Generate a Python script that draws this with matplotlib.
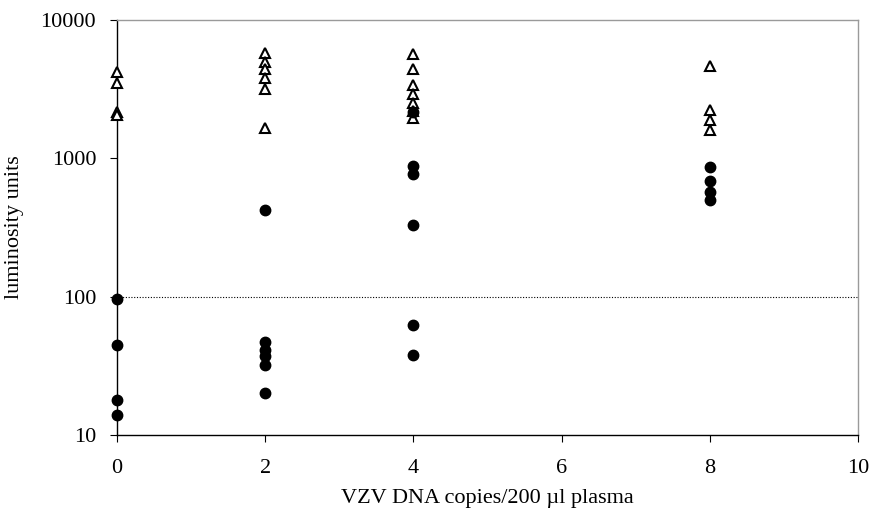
# Luminosity units vs. VZV DNA copies (log scale scatter)

import matplotlib
matplotlib.use("Agg")
import matplotlib.pyplot as plt

# open triangles
tri_x = [0, 0, 0, 0,
         2, 2, 2, 2, 2, 2,
         4, 4, 4, 4, 4, 4, 4,
         8, 8, 8, 8]
tri_y = [4200, 3500, 2150, 2050,
         5800, 5000, 4400, 3800, 3150, 1650,
         5700, 4400, 3400, 2900, 2500, 2200, 1950,
         4650, 2250, 1900, 1600]

# filled circles
dot_x = [0, 0, 0, 0,
         2, 2, 2, 2, 2, 2,
         4, 4, 4, 4, 4, 4,
         8, 8, 8, 8]
dot_y = [97, 45, 18, 14,
         420, 47, 41, 37, 32, 20,
         2150, 880, 775, 330, 62, 38,
         860, 690, 570, 497]

cutoff = 100
x_ticks = [0, 2, 4, 6, 8, 10]
y_ticks = [10, 100, 1000, 10000]

plt.rcParams["font.family"] = ["Liberation Serif", "DejaVu Serif"]

fig = plt.figure(figsize=(8.69, 5.17), dpi=100)
ax = fig.add_axes([0.1346, 0.1586, 0.8527, 0.8027])

ax.axhline(cutoff, color="black", lw=0.8, ls=(0, (1, 1.5)), zorder=1)

ax.plot(tri_x, tri_y, ls="none", marker="^", ms=7, mfc="white",
        mec="black", mew=1.5, clip_on=False, zorder=3)
ax.plot(dot_x, dot_y, ls="none", marker="o", ms=7.5, mfc="black",
        mec="black", clip_on=False, zorder=4)

ax.set_yscale("log")
ax.set_xlim(0, 10)
ax.set_ylim(10, 10000)
ax.set_xticks(x_ticks)
ax.set_xticklabels([str(t) for t in x_ticks])
ax.set_yticks(y_ticks)
ax.set_yticklabels([str(t) for t in y_ticks])
ax.minorticks_off()

ax.tick_params(axis="both", direction="out", length=5, width=0.8,
               labelsize=16)
ax.tick_params(axis="x", pad=12)
ax.tick_params(axis="y", pad=10)

for side in ["top", "right"]:
    ax.spines[side].set_color("#9a9a9a")
    ax.spines[side].set_linewidth(1.0)
for side in ["left", "bottom"]:
    ax.spines[side].set_color("black")
    ax.spines[side].set_linewidth(1.0)

ax.set_xlabel("VZV DNA copies/200 µl plasma", fontsize=16, labelpad=8)
ax.set_ylabel("luminosity units", fontsize=16, labelpad=12)

fig.savefig("out.png", dpi=100)
